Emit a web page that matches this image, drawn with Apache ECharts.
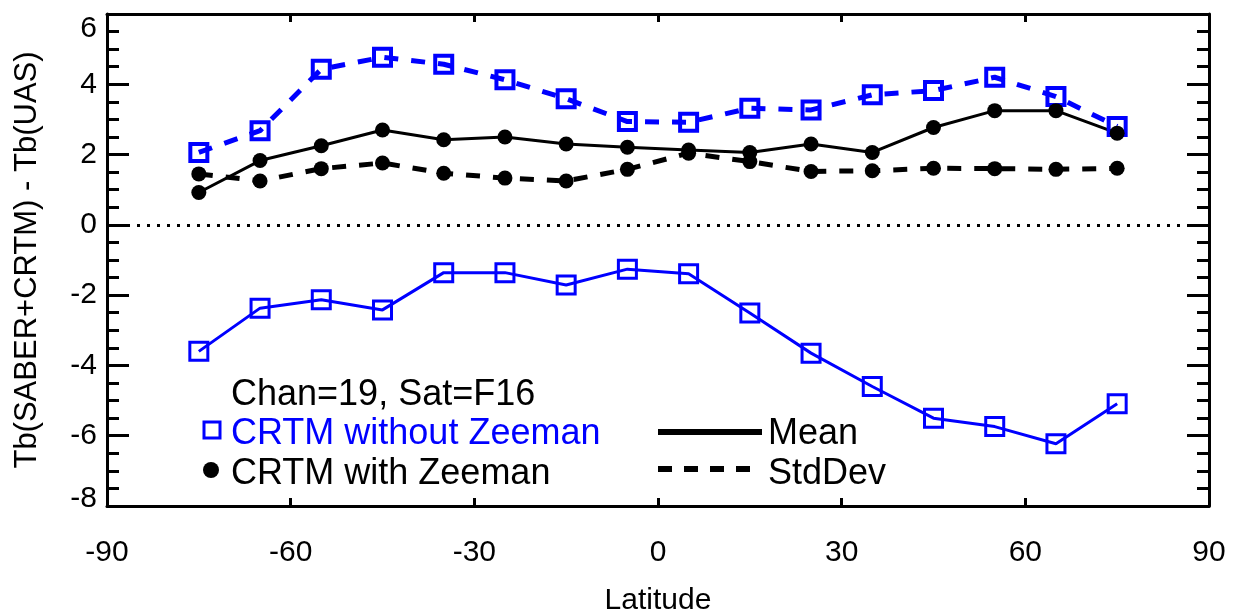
<!DOCTYPE html>
<html>
<head>
<meta charset="utf-8">
<script src="https://cdn.jsdelivr.net/npm/echarts@6/dist/echarts.min.js"></script>
<style>
  html, body { margin: 0; padding: 0; background: #fff; }
  #chart { width: 1236px; height: 610px; }
</style>
</head>
<body>
<div id="chart"></div>
<script>
// latitude bins
var lats = [-75, -65, -55, -45, -35, -25, -15, -5, 5, 15, 25, 35, 45, 55, 65, 75];

// CRTM without Zeeman
var noZeemanMean = [-3.60, -2.37, -2.13, -2.42, -1.36, -1.36, -1.71, -1.26, -1.39, -2.51, -3.65, -4.60, -5.50, -5.74, -6.23, -5.09];
var noZeemanStd = [2.06, 2.68, 4.43, 4.77, 4.57, 4.13, 3.59, 2.94, 2.92, 3.32, 3.27, 3.70, 3.82, 4.20, 3.65, 2.80];

// CRTM with Zeeman
var zeemanMean = [0.92, 1.83, 2.25, 2.70, 2.42, 2.50, 2.30, 2.21, 2.13, 2.06, 2.30, 2.06, 2.77, 3.25, 3.25, 2.61];
var zeemanStd = [1.45, 1.25, 1.60, 1.76, 1.47, 1.33, 1.25, 1.58, 2.04, 1.80, 1.52, 1.54, 1.61, 1.60, 1.58, 1.61];

var xTicks = [-90, -60, -30, 0, 30, 60, 90];
var yTicks = [-8, -6, -4, -2, 0, 2, 4, 6];

var BLUE = '#0000ff';
var FONT = 'Liberation Sans';
var LEG_FONT = '36px "' + FONT + '"';

function pairs(vals) {
  return lats.map(function (x, i) { return [x, vals[i]]; });
}

var myChart = echarts.init(document.getElementById('chart'));

function xAxisOpt(pos, showLabel) {
  return {
    type: 'value',
    position: pos,
    min: xTicks[0],
    max: xTicks[xTicks.length - 1],
    interval: 30,
    name: showLabel ? 'Latitude' : '',
    nameLocation: 'middle',
    nameGap: 80,
    nameTextStyle: { fontFamily: FONT, fontSize: 30, color: '#000' },
    axisLine: { show: true, onZero: false, lineStyle: { color: '#000', width: 3 } },
    axisTick: { show: true, inside: true, length: 8, lineStyle: { color: '#000', width: 3 } },
    axisLabel: { show: showLabel, margin: 32, fontFamily: FONT, fontSize: 30, color: '#000' },
    splitLine: { show: false }
  };
}

function yAxisOpt(pos, showLabel) {
  return {
    type: 'value',
    position: pos,
    min: yTicks[0],
    max: yTicks[yTicks.length - 1],
    interval: 2,
    name: showLabel ? 'Tb(SABER+CRTM) - Tb(UAS)' : '',
    nameLocation: 'middle',
    nameGap: 64,
    nameTextStyle: { fontFamily: FONT, fontSize: 31, color: '#000' },
    axisLine: { show: true, onZero: false, lineStyle: { color: '#000', width: 3 } },
    axisTick: { show: true, inside: true, length: 22, lineStyle: { color: '#000', width: 3 } },
    minorTick: { show: true, splitNumber: 4, length: 12, lineStyle: { color: '#000', width: 3 } },
    axisLabel: {
      show: showLabel, margin: 10, fontFamily: FONT, fontSize: 30, color: '#000',
      verticalAlignMaxLabel: 'top', verticalAlignMinLabel: 'bottom',
      formatter: function (v) {
        return v === yTicks[0] ? '{lo|' + v + '}' : String(v);
      },
      rich: {
        lo: { fontFamily: FONT, fontSize: 30, color: '#000', lineHeight: 14 }
      }
    },
    splitLine: { show: false }
  };
}

var option = {
  animation: false,
  backgroundColor: '#fff',
  grid: { left: 107, right: 27, top: 14, bottom: 104, outerBoundsMode: 'none', containLabel: false },
  xAxis: [xAxisOpt('bottom', true), xAxisOpt('top', false)],
  yAxis: [yAxisOpt('left', true), yAxisOpt('right', false)],
  series: [
    {
      name: 'zero',
      type: 'line',
      data: [],
      markLine: {
        silent: true,
        symbol: 'none',
        label: { show: false },
        lineStyle: { color: '#000', width: 3, type: [3, 7] },
        data: [{ yAxis: 0 }]
      }
    },
    {
      name: 'without Zeeman StdDev',
      type: 'line',
      data: pairs(noZeemanStd),
      symbol: 'rect',
      symbolSize: 17,
      lineStyle: { color: BLUE, width: 5, type: [14, 13] },
      itemStyle: { color: 'transparent', borderColor: BLUE, borderWidth: 4 }
    },
    {
      name: 'with Zeeman Mean',
      type: 'line',
      data: pairs(zeemanMean),
      symbol: 'circle',
      symbolSize: 15,
      lineStyle: { color: '#000', width: 3 },
      itemStyle: { color: '#000' }
    },
    {
      name: 'with Zeeman StdDev',
      type: 'line',
      data: pairs(zeemanStd),
      symbol: 'circle',
      symbolSize: 15,
      lineStyle: { color: '#000', width: 5, type: [14, 13] },
      itemStyle: { color: '#000' }
    },
    {
      name: 'without Zeeman Mean',
      type: 'line',
      data: pairs(noZeemanMean),
      symbol: 'rect',
      symbolSize: 18,
      lineStyle: { color: BLUE, width: 3 },
      itemStyle: { color: 'transparent', borderColor: BLUE, borderWidth: 3 }
    }
  ],
  graphic: [
    { type: 'text', x: 231, y: 395, style: { text: 'Chan=19, Sat=F16', fill: '#000', font: LEG_FONT, verticalAlign: 'middle' } },
    { type: 'rect', x: 204, y: 422, shape: { width: 16, height: 16 }, style: { fill: 'none', stroke: BLUE, lineWidth: 3 } },
    { type: 'text', x: 231, y: 434.5, style: { text: 'CRTM without Zeeman', fill: BLUE, font: LEG_FONT, verticalAlign: 'middle' } },
    { type: 'circle', shape: { cx: 211, cy: 470, r: 8 }, style: { fill: '#000' } },
    { type: 'text', x: 231, y: 474.5, style: { text: 'CRTM with Zeeman', fill: '#000', font: LEG_FONT, verticalAlign: 'middle' } },
    { type: 'line', shape: { x1: 658, y1: 432, x2: 762, y2: 432 }, style: { stroke: '#000', lineWidth: 6 } },
    { type: 'text', x: 768, y: 434.5, style: { text: 'Mean', fill: '#000', font: LEG_FONT, verticalAlign: 'middle' } },
    { type: 'line', shape: { x1: 658, y1: 469, x2: 753, y2: 469 }, style: { stroke: '#000', lineWidth: 6, lineDash: [14, 12] } },
    { type: 'text', x: 768, y: 474.5, style: { text: 'StdDev', fill: '#000', font: LEG_FONT, verticalAlign: 'middle' } }
  ]
};

myChart.setOption(option);
</script>
</body>
</html>
